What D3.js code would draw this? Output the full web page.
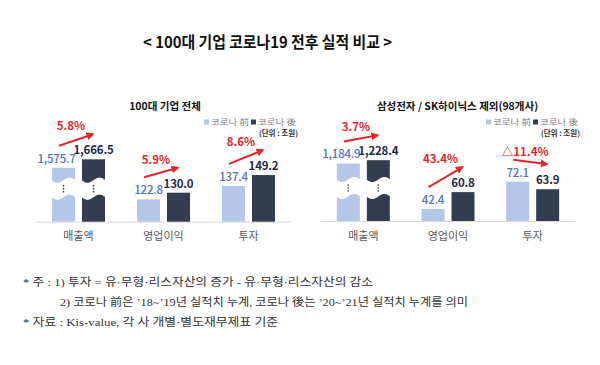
<!DOCTYPE html>
<html><head><meta charset="utf-8">
<script src="https://cdn.jsdelivr.net/npm/d3@7"></script>
<style>
html,body{margin:0;padding:0;background:#fff;}
svg{display:block;}
text{font-family:"Noto Sans CJK KR","Noto Sans",sans-serif;}
</style></head>
<body>
<svg id="c" width="600" height="365"></svg>
<script>
// ---- data ----
const mainTitle = "< 100대 기업 코로나19 전후 실적 비교 >";
const categories = ["매출액", "영업이익", "투자"];
const seriesNames = ["코로나 前", "코로나 後"];
const unitLabel = "(단위 : 조원)";
const leftTitle = "100대 기업 전체";
const leftBefore = [1575.7, 122.8, 137.4];
const leftAfter = [1666.5, 130.0, 149.2];
const leftChange = ["5.8%", "5.9%", "8.6%"];
const rightTitle = "삼성전자 / SK하이닉스 제외(98개사)";
const rightBefore = [1184.9, 42.4, 72.1];
const rightAfter = [1228.4, 60.8, 63.9];
const rightChange = ["3.7%", "43.4%", "△11.4%"];
const brokenCategory = "매출액";
const notes = [
  "* 주 : 1) 투자 = 유·무형·리스자산의 증가 - 유·무형·리스자산의 감소",
  "2) 코로나 前은 ’18~’19년 실적치 누계, 코로나 後는 ’20~’21년 실적치 누계를 의미",
  "* 자료 : Kis-value, 각 사 개별·별도재무제표 기준"
];

// ---- style ----
const cBefore = "#b4c7e7", cAfter = "#323e50";
const cBeforeLbl = "#5274b8", cAfterLbl = "#1f2b47";
const cRed = "#e3262b";

const svg = d3.select("#c");
const defs = svg.append("defs");
defs.append("marker").attr("id","ah").attr("viewBox","0 0 10 10")
  .attr("refX",8).attr("refY",5).attr("markerWidth",4).attr("markerHeight",4)
  .attr("orient","auto").attr("markerUnits","strokeWidth")
  .append("path").attr("d","M0,0 L10,5 L0,10 z").attr("fill",cRed);

svg.append("text").attr("x",267.5).attr("y",47.5).attr("text-anchor","middle")
  .attr("font-size",15.5).attr("font-weight",700).attr("fill","#111")
  .attr("textLength",249).attr("lengthAdjust","spacingAndGlyphs")
  .text(mainTitle);

function panel(cfg){
  const g = svg.append("g");
  const x = d3.scaleBand().domain(categories).range([cfg.x0, cfg.x1]);
  const y = d3.scaleLinear().domain(cfg.domain).range(cfg.range);
  const base = cfg.range[0];
  const bw = 23, gap = 3.5;

  g.append("line").attr("x1",cfg.x0).attr("x2",cfg.x1).attr("y1",base+0.5).attr("y2",base+0.5)
    .attr("stroke","#d9d9d9").attr("stroke-width",1);

  // title
  g.append("text").attr("x",(cfg.x0+cfg.x1)/2 + cfg.titleDx).attr("y",109.5).attr("text-anchor","middle")
    .attr("font-size",10.5).attr("font-weight",700).attr("fill","#111").text(cfg.title);

  // legend
  const lg = g.append("g").attr("transform",`translate(${cfg.legendRight},0)`);
  const lw = [-94, -47];
  [cBefore, cAfter].forEach((c,i)=>{
    lg.append("rect").attr("x",lw[i]).attr("y",119.5).attr("width",5).attr("height",5).attr("fill",c);
    lg.append("text").attr("x",lw[i]+7).attr("y",124.5).attr("font-size",7.5).attr("fill","#7f7f7f")
      .attr("textLength",38).attr("lengthAdjust","spacingAndGlyphs").text(seriesNames[i]);
  });
  lg.append("text").attr("x",0).attr("y",135.5).attr("text-anchor","end").attr("font-size",7.5)
    .attr("font-weight",700).attr("fill","#333").text(unitLabel);

  const rows = categories.map((c,i)=>({c, b:cfg.before[i], a:cfg.after[i], ch:cfg.change[i]}));
  const cx = d => x(d.c) + x.bandwidth()/2;
  const xb = d => cx(d) - gap - bw, xa = d => cx(d) + gap;

  // bars
  g.selectAll(".bb").data(rows).join("rect").attr("x",xb).attr("y",d=>y(d.b))
    .attr("width",bw).attr("height",d=>base-y(d.b)).attr("fill",cBefore);
  g.selectAll(".ba").data(rows).join("rect").attr("x",xa).attr("y",d=>y(d.a))
    .attr("width",bw).attr("height",d=>base-y(d.a)).attr("fill",cAfter);

  // axis breaks
  const yc = base - 33;
  rows.filter(d=>d.c===brokenCategory).forEach(d=>{
    [xb(d), xa(d)].forEach(x0=>{
      const n = 24, top = [], bot = [];
      for(let k=0;k<=n;k++){
        const t = k/n, px = x0 - 0.5 + t*(bw+1);
        const off = 2.6*Math.sin(2*Math.PI*t);
        top.push([px, yc - 8.5 + off]);
        bot.push([px, yc + 8.5 + off]);
      }
      const pts = top.concat(bot.reverse());
      g.append("path").attr("d", d3.line()(pts)+"Z").attr("fill","#fff");
      [-3,0,3].forEach(o=>g.append("circle").attr("cx",x0+bw/2).attr("cy",yc+o).attr("r",0.85).attr("fill","#444"));
    });
  });

  // value labels
  g.selectAll(".lb").data(rows).join("text")
    .attr("x",d=>cx(d)-gap-bw/2 - (d.c===brokenCategory?7:0)).attr("y",d=>y(d.b)-5)
    .attr("text-anchor","middle").attr("font-size",11.5).attr("font-weight",500).attr("fill",cBeforeLbl)
    .attr("letter-spacing",-0.2)
    .text(d=>d3.format(",.1f")(d.b));
  g.selectAll(".la").data(rows).join("text")
    .attr("x",d=>cx(d)+gap+bw/2).attr("y",d=>y(d.a)-5)
    .attr("text-anchor","middle").attr("font-size",11.5).attr("font-weight",700).attr("fill",cAfterLbl)
    .attr("letter-spacing",-0.2)
    .text(d=>d3.format(",.1f")(d.a));

  // change arrows
  rows.forEach(d=>{
    const x1 = xb(d)+7, y1 = y(d.b)-22;
    const x2 = xa(d)+11, y2 = y(d.a)-25;
    g.append("line").attr("x1",x1).attr("y1",y1).attr("x2",x2).attr("y2",y2)
      .attr("stroke",cRed).attr("stroke-width",2).attr("marker-end","url(#ah)");
    g.append("text").attr("x",(x1+x2)/2-5).attr("y",Math.min(y1,y2)-4)
      .attr("text-anchor","middle").attr("font-size",11.5).attr("font-weight",700)
      .attr("fill",cRed).text(d.ch);
  });

  // category labels
  g.selectAll(".cl").data(categories).join("text")
    .attr("x",c=>x(c)+x.bandwidth()/2).attr("y",239.5).attr("text-anchor","middle")
    .attr("font-size",11).attr("fill","#595959").text(c=>c);
}

panel({x0:36, x1:291, domain:[98.5,150,1550,1700], range:[221.7,174.3,170.1,156.2],
  before:leftBefore, after:leftAfter, change:leftChange, title:leftTitle, titleDx:1.5, legendRight:298});
panel({x0:321, x1:575, domain:[29.4,80,1150,1300], range:[221,174.4,166.15,154.75],
  before:rightBefore, after:rightAfter, change:rightChange, title:rightTitle, titleDx:9.5, legendRight:580});

// notes
const nt = svg.append("g").attr("fill","#333").attr("font-size",11);
const nx = [23, 60, 23], ny = [286, 305.5, 325.5], nl = [350, 408, 255];
notes.forEach((s,i)=>{
  nt.append("text").attr("x",nx[i]).attr("y",ny[i])
    .style("font-family",'"Liberation Serif","Noto Sans CJK KR",serif')
    .attr("textLength",nl[i]).attr("lengthAdjust","spacingAndGlyphs").text(s);
});
</script>
</body></html>
